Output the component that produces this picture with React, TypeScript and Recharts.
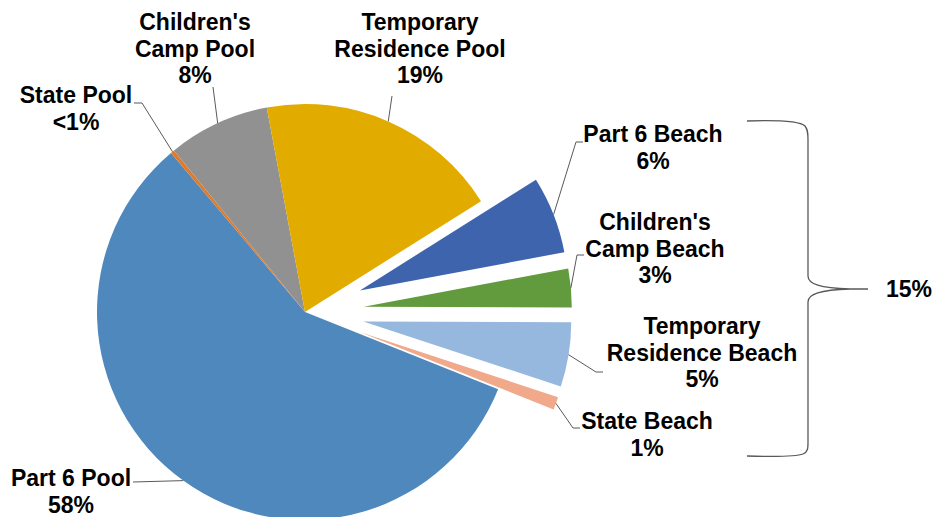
import React from 'react';
import { PieChart, Pie, Cell, Sector, Customized } from 'recharts';

// pool / beach shares (percent of total)
const categories = [
  'Part 6 Pool',
  'State Pool',
  "Children's Camp Pool",
  'Temporary Residence Pool',
  'Part 6 Beach',
  "Children's Camp Beach",
  'Temporary Residence Beach',
  'State Beach',
];
const shares = [57.8, 0.3, 7.9, 19.0, 6.0, 3.0, 5.0, 1.0];
const shareLabels = ['58%', '<1%', '8%', '19%', '6%', '3%', '5%', '1%'];
const labelLines = [
  ['Part 6 Pool'],
  ['State Pool'],
  ["Children's", 'Camp Pool'],
  ['Temporary', 'Residence Pool'],
  ['Part 6 Beach'],
  ["Children's", 'Camp Beach'],
  ['Temporary', 'Residence Beach'],
  ['State Beach'],
];
const isBeach = [false, false, false, false, true, true, true, true];

const COLORS = ['#4f88bc', '#e07b2c', '#919191', '#e1ab00', '#3d64ad', '#629b3d', '#96b7de', '#f0a98b'];

// where each label sits (center x, first line y) and the leader elbow
const LABEL_POS = [
  { x: 71, y: 478, elbow: [[133, 482]] },
  { x: 76, y: 95, elbow: [[142, 103], [134, 103]] },
  { x: 195, y: 22, elbow: [[213, 87]] },
  { x: 420, y: 22, elbow: [[392, 96]] },
  { x: 653, y: 134, elbow: [[576, 142], [583, 142]] },
  { x: 655, y: 222, elbow: [[577, 255], [584, 255]] },
  { x: 702, y: 326, elbow: [[596, 372], [603, 372]] },
  { x: 647, y: 421, elbow: [[573, 428], [580, 428]] },
];

const RAD = Math.PI / 180;
const EXPLODE = 59;
const LINE_H = 26.5;
const FONT = "'Liberation Sans', Arial, sans-serif";

const chartData = categories.map((name, i) => ({
  name,
  value: shares[i],
  pct: shareLabels[i],
  lines: labelLines[i],
  exploded: isBeach[i],
}));

const offsetFor = (midAngle: number, exploded: boolean) => {
  const r = exploded ? EXPLODE : 0;
  return { dx: r * Math.cos(-midAngle * RAD), dy: r * Math.sin(-midAngle * RAD) };
};

const ExplodedSector = (props: any) => {
  const { cx, cy, midAngle, payload } = props;
  const { dx, dy } = offsetFor(midAngle, payload?.exploded);
  return <Sector {...props} cx={cx + dx} cy={cy + dy} />;
};

const renderLabel = (props: any) => {
  const { cx, cy, midAngle, outerRadius, index, payload } = props;
  const pos = LABEL_POS[index];
  const { dx, dy } = offsetFor(midAngle, payload?.exploded);
  const ex = cx + dx + outerRadius * Math.cos(-midAngle * RAD);
  const ey = cy + dy + outerRadius * Math.sin(-midAngle * RAD);
  const pts = [[ex, ey], ...pos.elbow].map(p => p.join(',')).join(' ');
  const lines = [...payload.lines, payload.pct];
  return (
    <g>
      <polyline points={pts} fill="none" stroke="#595959" strokeWidth={1} />
      <text
        x={pos.x}
        y={pos.y}
        textAnchor="middle"
        fontFamily={FONT}
        fontWeight="bold"
        fontSize={23}
        fill="#000"
      >
        {lines.map((ln: string, i: number) => (
          <tspan key={i} x={pos.x} y={pos.y + i * LINE_H} dominantBaseline="central">
            {ln}
          </tspan>
        ))}
      </text>
    </g>
  );
};

const beachTotal = Math.round(shares.filter((_, i) => isBeach[i]).reduce((a, b) => a + b, 0));

const Brace = () => (
  <g>
    <path
      d="M747 121 C780 120 800 121 805 126 C808 130 808 134 808 140 L808 276 C808 284 820 288 850 289 L868 289 M850 289 C820 290 808 294 808 302 L808 442 C808 448 808 452 803 454 C798 456 780 457 747 456"
      fill="none"
      stroke="#595959"
      strokeWidth={1.3}
    />
    <text x={909} y={289} textAnchor="middle" dominantBaseline="central" fontFamily={FONT} fontWeight="bold" fontSize={23} fill="#000">
      {beachTotal}%
    </text>
  </g>
);

export default function App() {
  return (
    <div style={{ position: 'absolute', left: 0, top: 0, background: '#fff' }}>
      <PieChart width={938} height={517} margin={{ top: 0, right: 0, bottom: 0, left: 0 }}>
        <Pie
          data={chartData}
          dataKey="value"
          nameKey="name"
          cx={305}
          cy={312}
          outerRadius={208}
          startAngle={-21.8}
          endAngle={-381.8}
          stroke="none"
          labelLine={false}
          label={renderLabel}
          shape={ExplodedSector}
          isAnimationActive={false}
        >
          {chartData.map((entry, index) => (
            <Cell key={`cell-${index}`} fill={COLORS[index]} />
          ))}
        </Pie>
        <Customized component={Brace} />
      </PieChart>
    </div>
  );
}
